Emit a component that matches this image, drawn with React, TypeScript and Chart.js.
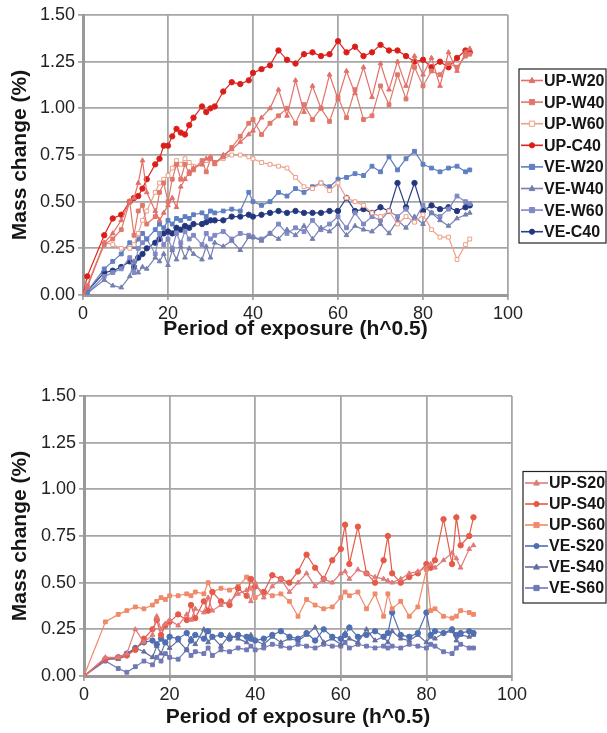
import React, { useEffect, useRef } from 'react';
import Chart from 'chart.js/auto';

const FONT = '"Liberation Sans", Arial, Helvetica, sans-serif';

// ---------- Shared tick labels ----------
const X_TICK_LABELS = ['0', '20', '40', '60', '80', '100'];
const Y_TICK_LABELS = ['0.00', '0.25', '0.50', '0.75', '1.00', '1.25', '1.50'];

// ---------- Top chart (W / C series) ----------
const TOP_X = [0, 1, 5, 7, 9, 11, 12, 13, 14, 15, 17, 18, 19, 20, 21, 22, 23, 24, 25, 26, 28, 29, 30, 31, 33, 35, 37, 39, 40, 42, 44, 46, 48, 50, 52, 54, 56, 58, 60, 62, 64, 66, 68, 70, 72, 74, 76, 78, 80, 82, 84, 86, 88, 90, 91];

const UP_W20 = [0, 0.04, 0.28, 0.33, 0.40, 0.50, 0.52, 0.60, 0.72, 0.55, 0.45, 0.40, 0.44, 0.48, 0.52, 0.47, 0.58, 0.62, 0.66, 0.68, 0.70, 0.73, 0.74, 0.70, 0.75, 0.78, 0.82, 0.86, 0.88, 0.95, 1.00, 1.10, 0.96, 1.15, 0.98, 1.12, 1.00, 1.18, 1.05, 1.20, 1.08, 1.22, 1.06, 1.24, 1.10, 1.25, 1.12, 1.28, 1.18, 1.27, 1.12, 1.30, 1.20, 1.30, 1.32];
const UP_W40 = [0, 0.05, 0.27, 0.30, 0.35, 0.50, 0.32, 0.45, 0.48, 0.38, 0.42, 0.55, 0.60, 0.50, 0.62, 0.70, 0.62, 0.70, 0.65, 0.67, 0.72, 0.66, 0.73, 0.71, 0.74, 0.79, 0.85, 0.92, 0.94, 0.86, 0.92, 0.96, 1.00, 0.92, 1.02, 0.94, 1.00, 0.93, 1.06, 0.95, 1.10, 0.94, 0.96, 1.12, 1.02, 1.18, 1.05, 1.22, 1.12, 1.20, 1.18, 1.24, 1.22, 1.28, 1.29];
const UP_W60 = [0, 0.05, 0.28, 0.27, 0.25, 0.25, 0.27, 0.33, 0.40, 0.45, 0.55, 0.60, 0.62, 0.64, 0.68, 0.72, 0.70, 0.73, 0.71, 0.69, 0.70, 0.72, 0.74, 0.71, 0.73, 0.75, 0.75, 0.74, 0.73, 0.71, 0.70, 0.69, 0.68, 0.63, 0.58, 0.57, 0.60, 0.56, 0.60, 0.52, 0.50, 0.48, 0.44, 0.42, 0.45, 0.38, 0.42, 0.39, 0.43, 0.35, 0.31, 0.31, 0.19, 0.27, 0.30];
const UP_C40 = [0, 0.10, 0.32, 0.41, 0.43, 0.50, 0.52, 0.53, 0.57, 0.62, 0.70, 0.73, 0.80, 0.80, 0.85, 0.89, 0.87, 0.86, 0.91, 0.95, 1.01, 0.98, 1.00, 1.01, 1.09, 1.14, 1.13, 1.15, 1.19, 1.21, 1.23, 1.31, 1.26, 1.24, 1.29, 1.30, 1.28, 1.29, 1.36, 1.30, 1.33, 1.28, 1.30, 1.34, 1.31, 1.31, 1.28, 1.25, 1.26, 1.22, 1.25, 1.22, 1.27, 1.31, 1.30];
const VE_W20 = [0, 0.02, 0.14, 0.18, 0.22, 0.28, 0.26, 0.30, 0.33, 0.30, 0.35, 0.38, 0.36, 0.40, 0.38, 0.41, 0.40, 0.42, 0.41, 0.43, 0.44, 0.42, 0.45, 0.44, 0.45, 0.46, 0.45, 0.55, 0.50, 0.48, 0.50, 0.55, 0.53, 0.57, 0.55, 0.58, 0.60, 0.58, 0.62, 0.63, 0.65, 0.64, 0.69, 0.66, 0.74, 0.67, 0.73, 0.77, 0.70, 0.68, 0.66, 0.68, 0.69, 0.66, 0.67];
const VE_W40 = [0, 0.01, 0.08, 0.05, 0.04, 0.10, 0.18, 0.12, 0.15, 0.14, 0.20, 0.18, 0.22, 0.16, 0.24, 0.19, 0.26, 0.20, 0.25, 0.22, 0.19, 0.26, 0.20, 0.28, 0.26, 0.29, 0.24, 0.31, 0.31, 0.29, 0.33, 0.30, 0.35, 0.32, 0.37, 0.30, 0.36, 0.34, 0.38, 0.32, 0.37, 0.35, 0.34, 0.38, 0.33, 0.40, 0.36, 0.42, 0.38, 0.44, 0.40, 0.37, 0.41, 0.43, 0.44];
const VE_W60 = [0, 0.01, 0.10, 0.12, 0.14, 0.20, 0.12, 0.25, 0.28, 0.30, 0.22, 0.33, 0.27, 0.30, 0.25, 0.33, 0.28, 0.34, 0.30, 0.32, 0.27, 0.33, 0.30, 0.32, 0.34, 0.30, 0.33, 0.32, 0.31, 0.30, 0.33, 0.38, 0.33, 0.36, 0.34, 0.40, 0.35, 0.38, 0.42, 0.36, 0.44, 0.38, 0.42, 0.40, 0.45, 0.42, 0.46, 0.40, 0.48, 0.44, 0.42, 0.46, 0.53, 0.50, 0.49];
const VE_C40 = [0, 0.02, 0.12, 0.13, 0.15, 0.18, 0.15, 0.20, 0.22, 0.25, 0.28, 0.30, 0.33, 0.34, 0.33, 0.36, 0.35, 0.37, 0.36, 0.38, 0.38, 0.39, 0.40, 0.40, 0.40, 0.42, 0.42, 0.43, 0.42, 0.43, 0.44, 0.45, 0.44, 0.45, 0.44, 0.44, 0.44, 0.45, 0.45, 0.52, 0.45, 0.46, 0.44, 0.47, 0.45, 0.60, 0.47, 0.60, 0.45, 0.48, 0.46, 0.47, 0.45, 0.47, 0.48];

// ---------- Bottom chart (S series) ----------
const BOT_X = [0, 5, 8, 10, 12, 14, 16, 17, 18, 19, 20, 22, 24, 25, 26, 28, 29, 30, 32, 34, 36, 38, 39, 40, 42, 44, 46, 48, 50, 52, 54, 56, 58, 60, 61, 62, 64, 66, 68, 70, 71, 72, 74, 76, 78, 80, 81, 82, 84, 86, 87, 88, 90, 91];

const UP_S20 = [0, 0.10, 0.10, 0.12, 0.25, 0.18, 0.22, 0.32, 0.25, 0.28, 0.30, 0.27, 0.33, 0.30, 0.36, 0.34, 0.42, 0.35, 0.38, 0.40, 0.44, 0.46, 0.40, 0.50, 0.42, 0.48, 0.52, 0.45, 0.50, 0.55, 0.48, 0.52, 0.50, 0.55, 0.56, 0.52, 0.57, 0.55, 0.53, 0.52, 0.51, 0.50, 0.52, 0.55, 0.56, 0.58, 0.60, 0.58, 0.62, 0.66, 0.63, 0.58, 0.68, 0.70];
const UP_S40 = [0, 0.09, 0.10, 0.11, 0.14, 0.20, 0.25, 0.30, 0.22, 0.27, 0.29, 0.33, 0.30, 0.38, 0.31, 0.40, 0.35, 0.45, 0.40, 0.38, 0.47, 0.43, 0.52, 0.48, 0.45, 0.54, 0.52, 0.50, 0.56, 0.65, 0.58, 0.52, 0.62, 0.68, 0.81, 0.60, 0.80, 0.55, 0.50, 0.62, 0.75, 0.55, 0.50, 0.53, 0.55, 0.60, 0.58, 0.62, 0.84, 0.60, 0.85, 0.70, 0.75, 0.85];
const UP_S60 = [0, 0.29, 0.33, 0.35, 0.37, 0.36, 0.38, 0.40, 0.42, 0.41, 0.43, 0.43, 0.44, 0.43, 0.45, 0.44, 0.50, 0.45, 0.47, 0.46, 0.48, 0.53, 0.47, 0.42, 0.45, 0.43, 0.44, 0.40, 0.32, 0.41, 0.38, 0.36, 0.37, 0.42, 0.45, 0.43, 0.45, 0.36, 0.44, 0.32, 0.44, 0.36, 0.40, 0.32, 0.37, 0.57, 0.35, 0.36, 0.32, 0.31, 0.32, 0.35, 0.34, 0.33];
const VE_S20 = [0, 0.09, 0.10, 0.12, 0.15, 0.18, 0.19, 0.17, 0.20, 0.18, 0.21, 0.20, 0.23, 0.19, 0.22, 0.20, 0.24, 0.21, 0.22, 0.20, 0.22, 0.21, 0.20, 0.19, 0.20, 0.22, 0.24, 0.21, 0.20, 0.23, 0.19, 0.25, 0.21, 0.20, 0.22, 0.26, 0.21, 0.22, 0.24, 0.21, 0.23, 0.34, 0.22, 0.21, 0.23, 0.34, 0.22, 0.24, 0.23, 0.25, 0.22, 0.23, 0.24, 0.23];
const VE_S40 = [0, 0.09, 0.09, 0.11, 0.15, 0.13, 0.10, 0.16, 0.12, 0.18, 0.15, 0.19, 0.14, 0.20, 0.17, 0.25, 0.18, 0.21, 0.16, 0.22, 0.20, 0.18, 0.22, 0.19, 0.17, 0.21, 0.18, 0.20, 0.19, 0.22, 0.26, 0.18, 0.20, 0.17, 0.23, 0.20, 0.18, 0.25, 0.19, 0.21, 0.18, 0.24, 0.20, 0.19, 0.22, 0.18, 0.21, 0.20, 0.23, 0.24, 0.19, 0.22, 0.21, 0.22];
const VE_S60 = [0, 0.08, 0.04, 0.02, 0.05, 0.08, 0.06, 0.10, 0.08, 0.12, 0.10, 0.09, 0.14, 0.11, 0.13, 0.12, 0.15, 0.11, 0.14, 0.13, 0.15, 0.14, 0.16, 0.14, 0.15, 0.17, 0.16, 0.15, 0.17, 0.16, 0.15, 0.17, 0.16, 0.16, 0.18, 0.15, 0.17, 0.16, 0.15, 0.16, 0.15, 0.16, 0.15, 0.17, 0.16, 0.15, 0.17, 0.16, 0.13, 0.12, 0.15, 0.17, 0.15, 0.15];

type SeriesDef = { label: string; values: number[]; color: string; fill: string; point: string };

const TOP_SERIES: SeriesDef[] = [
  { label: 'UP-W20', values: UP_W20, color: '#e4706a', fill: '#e4706a', point: 'triangle' },
  { label: 'UP-W40', values: UP_W40, color: '#e0786a', fill: '#e0786a', point: 'rect' },
  { label: 'UP-W60', values: UP_W60, color: '#eea088', fill: '#ffffff', point: 'rect' },
  { label: 'UP-C40', values: UP_C40, color: '#e0241e', fill: '#d81e1a', point: 'circle' },
  { label: 'VE-W20', values: VE_W20, color: '#5f7fc2', fill: '#5f7fc2', point: 'rect' },
  { label: 'VE-W40', values: VE_W40, color: '#7580b0', fill: '#7580b0', point: 'triangle' },
  { label: 'VE-W60', values: VE_W60, color: '#8088c6', fill: '#8088c6', point: 'rect' },
  { label: 'VE-C40', values: VE_C40, color: '#2c3f86', fill: '#24367a', point: 'circle' },
];

const BOT_SERIES: SeriesDef[] = [
  { label: 'UP-S20', values: UP_S20, color: '#e07a7a', fill: '#e07a7a', point: 'triangle' },
  { label: 'UP-S40', values: UP_S40, color: '#e65a48', fill: '#e65a48', point: 'circle' },
  { label: 'UP-S60', values: UP_S60, color: '#ef8a6a', fill: '#ef8a6a', point: 'rect' },
  { label: 'VE-S20', values: VE_S20, color: '#4f6fb2', fill: '#4f6fb2', point: 'circle' },
  { label: 'VE-S40', values: VE_S40, color: '#63709e', fill: '#63709e', point: 'triangle' },
  { label: 'VE-S60', values: VE_S60, color: '#7078b6', fill: '#7078b6', point: 'rect' },
];

function drawMarker(ctx: CanvasRenderingContext2D, style: string, x: number, y: number, r: number, stroke: string, fill: string) {
  ctx.beginPath();
  if (style === 'circle') {
    ctx.arc(x, y, r, 0, Math.PI * 2);
  } else if (style === 'triangle') {
    ctx.moveTo(x, y - r * 1.2);
    ctx.lineTo(x + r * 1.1, y + r * 0.8);
    ctx.lineTo(x - r * 1.1, y + r * 0.8);
    ctx.closePath();
  } else {
    ctx.rect(x - r, y - r, r * 2, r * 2);
  }
  ctx.fillStyle = fill;
  ctx.fill();
  ctx.strokeStyle = stroke;
  ctx.lineWidth = 1;
  ctx.stroke();
}

const boxLegend = {
  id: 'boxLegend',
  afterDraw(chart: any, _args: any, opts: any) {
    const ctx: CanvasRenderingContext2D = chart.ctx;
    const { left, top, right, bottom, lineX0, lineX1, textX, rowY0, rowH, fontSize } = opts;
    ctx.save();
    ctx.fillStyle = '#ffffff';
    ctx.fillRect(left, top, right - left, bottom - top);
    ctx.strokeStyle = '#222222';
    ctx.lineWidth = 1.2;
    ctx.strokeRect(left, top, right - left, bottom - top);
    chart.data.datasets.forEach((ds: any, i: number) => {
      const y = rowY0 + i * rowH;
      ctx.strokeStyle = ds.borderColor;
      ctx.lineWidth = 1.6;
      ctx.beginPath();
      ctx.moveTo(lineX0, y);
      ctx.lineTo(lineX1, y);
      ctx.stroke();
      drawMarker(ctx, ds.pointStyle, (lineX0 + lineX1) / 2, y, 2.6, ds.pointBorderColor, ds.pointBackgroundColor);
      ctx.fillStyle = '#151515';
      ctx.font = `bold ${fontSize}px ${FONT}`;
      ctx.textBaseline = 'middle';
      ctx.textAlign = 'left';
      ctx.fillText(ds.label, textX, y + 1);
    });
    ctx.restore();
  },
};

function makeConfig(xs: number[], series: SeriesDef[], geo: any) {
  const datasets = series.map((s) => ({
    label: s.label,
    data: xs.map((x, i) => ({ x, y: s.values[i] })),
    borderColor: s.color,
    backgroundColor: s.fill,
    pointBorderColor: s.color,
    pointBackgroundColor: s.fill,
    pointStyle: s.point,
    pointRadius: 2.7,
    pointBorderWidth: 1,
    borderWidth: 1.2,
    tension: 0,
  }));
  return {
    type: 'line' as const,
    data: { datasets },
    plugins: [boxLegend],
    options: {
      animation: false as const,
      responsive: false,
      devicePixelRatio: 1,
      layout: { padding: { top: geo.padTop, right: geo.padRight, left: 0, bottom: 0 } },
      plugins: {
        legend: { display: false },
        tooltip: { enabled: false },
        boxLegend: geo.legend,
      },
      scales: {
        x: {
          type: 'linear' as const,
          min: 0,
          max: 100,
          ticks: {
            stepSize: 20,
            padding: 3,
            color: '#222',
            font: { family: FONT, size: 18 },
            callback: (_v: any, i: number) => X_TICK_LABELS[i],
          },
          grid: { color: '#a6a6a6', lineWidth: 1.8, tickLength: 5 },
          border: { color: '#999999', width: 3 },
          title: {
            display: true,
            text: 'Period of exposure (h^0.5)',
            color: '#151515',
            font: { family: FONT, size: 21, weight: 'bold' as const },
            padding: { top: 0, bottom: geo.xTitlePadBottom },
          },
          afterFit: (s: any) => { s.height = geo.xAxisHeight; },
        },
        y: {
          type: 'linear' as const,
          min: 0,
          max: 1.5,
          ticks: {
            stepSize: 0.25,
            padding: 3,
            color: '#222',
            font: { family: FONT, size: 18 },
            callback: (_v: any, i: number) => Y_TICK_LABELS[i],
          },
          grid: { color: '#a6a6a6', lineWidth: 1.8, tickLength: 5 },
          border: { color: '#999999', width: 3 },
          title: {
            display: true,
            text: 'Mass change (%)',
            color: '#151515',
            font: { family: FONT, size: 21, weight: 'bold' as const },
            padding: { top: 7.4, bottom: 0 },
          },
          afterFit: (s: any) => { s.width = geo.yAxisWidth; },
        },
      },
    },
  };
}

const TOP_GEO = {
  padTop: 15,
  padRight: 99,
  yAxisWidth: 83,
  xAxisHeight: 50,
  xTitlePadBottom: 3.4,
  legend: { left: 519, top: 69, right: 606, bottom: 243, lineX0: 521, lineX1: 543, textX: 544, rowY0: 80.5, rowH: 21.6, fontSize: 16 },
};

const BOT_GEO = {
  padTop: 46,
  padRight: 95,
  yAxisWidth: 84,
  xAxisHeight: 57,
  xTitlePadBottom: 3.4,
  legend: { left: 523, top: 121.5, right: 606, bottom: 253, lineX0: 525, lineX1: 548, textX: 549, rowY0: 133, rowH: 21, fontSize: 16 },
};

function ChartCanvas({ top, height, build }: { top: number; height: number; build: () => any }) {
  const ref = useRef<HTMLCanvasElement | null>(null);
  useEffect(() => {
    if (!ref.current) return;
    const chart = new Chart(ref.current, build());
    return () => chart.destroy();
  }, []);
  return (
    <canvas
      ref={ref}
      width={607}
      height={height}
      style={{ position: 'absolute', left: 0, top, width: 607, height, display: 'block' }}
    />
  );
}

export default function App() {
  return (
    <div style={{ position: 'absolute', left: 0, top: 0, width: 607, height: 733, background: '#ffffff', overflow: 'hidden' }}>
      <ChartCanvas top={0} height={345} build={() => makeConfig(TOP_X, TOP_SERIES, TOP_GEO)} />
      <ChartCanvas top={350} height={383} build={() => makeConfig(BOT_X, BOT_SERIES, BOT_GEO)} />
    </div>
  );
}
